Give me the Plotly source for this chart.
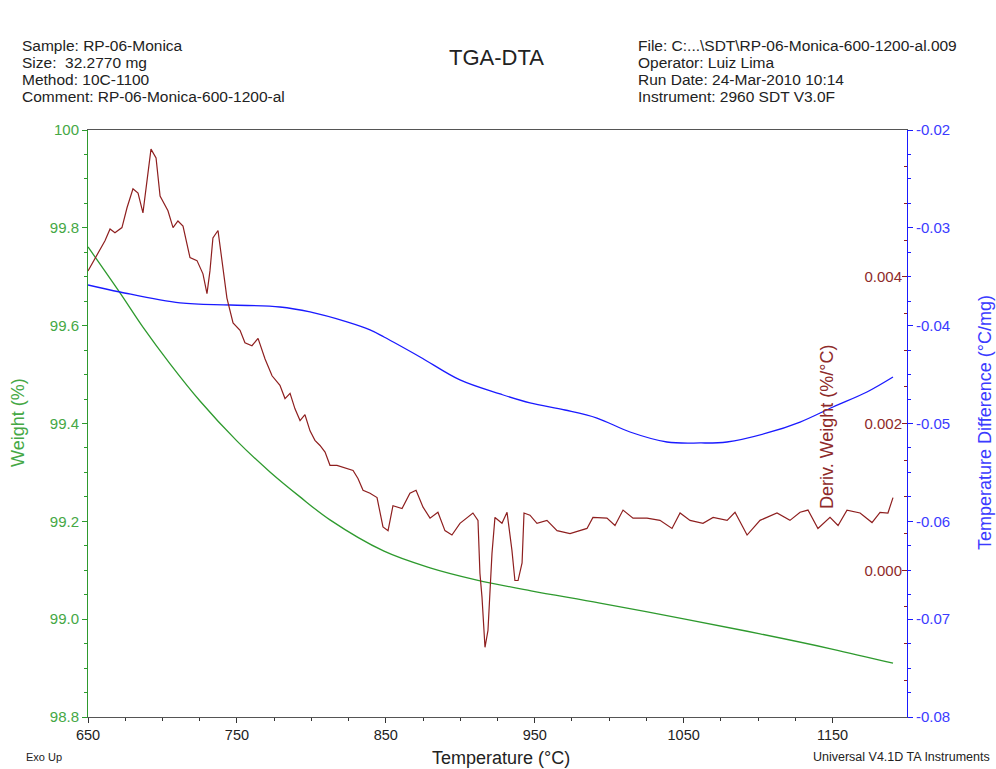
import plotly.graph_objects as go

# ---- data ----
temp_weight = [650.0, 671.5, 686.9, 705.1, 725.2, 750.1, 772.2, 792.4, 812.5, 848.8,
               879.7, 911.2, 947.5, 993.8, 1050.9, 1101.3, 1149.6, 1190.6]
weight = [99.761, 99.667, 99.597, 99.522, 99.446, 99.364, 99.301, 99.250, 99.203, 99.139,
          99.105, 99.080, 99.058, 99.033, 99.000, 98.970, 98.939, 98.910]

temp_dta = [650.0, 671.5, 711.8, 745.4, 778.9, 799.1, 823.9, 839.4, 848.8, 873.0,
            899.8, 926.7, 946.8, 970.3, 991.8, 1014.0, 1038.8, 1061.0, 1079.1, 1106.0,
            1128.2, 1150.3, 1173.1, 1190.6]
dta = [-0.03584, -0.03656, -0.03768, -0.03789, -0.03809, -0.03860, -0.03962, -0.04044,
       -0.04116, -0.04320, -0.04555, -0.04698, -0.04790, -0.04862, -0.04944, -0.05087,
       -0.05189, -0.05199, -0.05189, -0.05097, -0.04985, -0.04831, -0.04678, -0.04525]

temp_deriv = [650.0, 661.4, 664.8, 668.1, 672.8, 676.2, 680.2, 683.6, 686.9, 689.6,
              692.3, 695.7, 698.4, 703.7, 707.1, 710.4, 713.8, 718.5, 723.2, 727.2,
              729.9, 731.9, 733.9, 737.3, 740.0, 743.3, 747.4, 752.1, 755.4, 760.1,
              764.2, 768.9, 773.6, 778.9, 782.3, 785.7, 789.0, 792.4, 795.7, 799.1,
              802.4, 805.8, 809.2, 812.5, 817.2, 822.6, 828.0, 831.3, 834.7, 839.4,
              844.1, 848.1, 851.5, 854.8, 860.9, 866.2, 870.3, 875.0, 879.7, 885.0,
              889.7, 894.4, 899.8, 908.5, 911.9, 913.2, 914.6, 916.6, 918.6, 921.3,
              923.3, 928.0, 931.4, 934.7, 936.7, 938.8, 941.5, 942.8, 946.8, 951.5,
              958.2, 965.0, 973.7, 985.1, 989.1, 998.5, 1003.9, 1009.3, 1016.0, 1025.4,
              1034.1, 1042.2, 1047.6, 1054.3, 1063.0, 1069.8, 1079.2, 1084.5, 1092.6, 1101.3,
              1112.7, 1121.4, 1128.2, 1133.5, 1140.2, 1148.3, 1153.7, 1159.7, 1168.5, 1176.5,
              1181.9, 1187.2, 1190.6]
deriv = [0.00408, 0.00449, 0.00465, 0.00460, 0.00467, 0.00494, 0.00520, 0.00514, 0.00487, 0.00527,
         0.00574, 0.00562, 0.00510, 0.00490, 0.00467, 0.00476, 0.00469, 0.00426, 0.00422, 0.00404,
         0.00377, 0.00408, 0.00453, 0.00463, 0.00418, 0.00371, 0.00337, 0.00327, 0.00310, 0.00306,
         0.00316, 0.00288, 0.00265, 0.00252, 0.00234, 0.00241, 0.00220, 0.00204, 0.00212, 0.00190,
         0.00177, 0.00170, 0.00161, 0.00143, 0.00143, 0.00139, 0.00136, 0.00125, 0.00109, 0.00105,
         0.00099, 0.00059, 0.00054, 0.00088, 0.00084, 0.00105, 0.00109, 0.00086, 0.00071, 0.00079,
         0.00054, 0.00048, 0.00064, 0.00078, 0.00068, -0.00004, -0.00037, -0.00105, -0.00082, 0.00023,
         0.00072, 0.00064, 0.00079, 0.00027, -0.00014, -0.00014, 0.00010, 0.00078, 0.00075, 0.00064,
         0.00068, 0.00054, 0.00050, 0.00057, 0.00072, 0.00071, 0.00061, 0.00082, 0.00071, 0.00071,
         0.00068, 0.00057, 0.00078, 0.00068, 0.00064, 0.00072, 0.00068, 0.00079, 0.00048, 0.00068,
         0.00078, 0.00068, 0.00079, 0.00082, 0.00057, 0.00072, 0.00061, 0.00082, 0.00078, 0.00065,
         0.00079, 0.00078, 0.00099]

weight_ticks = [98.8, 99.0, 99.2, 99.4, 99.6, 99.8, 100.0]
weight_labels = ["98.8", "99.0", "99.2", "99.4", "99.6", "99.8", "100"]
dta_ticks = [-0.08, -0.07, -0.06, -0.05, -0.04, -0.03, -0.02]
dta_labels = ["-0.08", "-0.07", "-0.06", "-0.05", "-0.04", "-0.03", "-0.02"]
deriv_ticks = [0.0, 0.002, 0.004]
deriv_labels = ["0.000", "0.002", "0.004"]
temp_ticks = [650, 750, 850, 950, 1050, 1150]

GREEN = "#2e9a2e"
GREEN_TXT = "#45a845"
BLUE = "#1a1aff"
BLUE_TXT = "#3b3bff"
BROWN = "#8e1f1f"
BROWN_TXT = "#8e2a2a"
FONT = "Arial, Liberation Sans, sans-serif"

fig = go.Figure()
fig.add_trace(go.Scatter(x=temp_weight, y=weight, mode="lines", yaxis="y",
                         line=dict(color=GREEN, width=1.3, shape="spline"), hoverinfo="skip"))
fig.add_trace(go.Scatter(x=temp_dta, y=dta, mode="lines", yaxis="y2",
                         line=dict(color=BLUE, width=1.3, shape="spline"), hoverinfo="skip"))
fig.add_trace(go.Scatter(x=temp_deriv, y=deriv, mode="lines", yaxis="y3",
                         line=dict(color=BROWN, width=1.2), hoverinfo="skip"))

L, R, T, B = 88, 89, 130, 52
W, H = 996, 769
pw, ph = W - L - R, H - T - B


def px(x):
    return (x - L) / pw


def py(y):
    return (H - B - y) / ph


fig.update_layout(
    width=W, height=H,
    margin=dict(l=L, r=R, t=T, b=B),
    paper_bgcolor="white", plot_bgcolor="white",
    showlegend=False,
    font=dict(family=FONT, size=12, color="#222"),
    xaxis=dict(range=[650, 1200], tickvals=temp_ticks, ticks="outside", ticklen=5,
               tickcolor="#333", minor=dict(dtick=25, tick0=650, ticks="outside", ticklen=3, tickcolor="#333"),
               showline=True, linecolor="#555", linewidth=1, mirror=True,
               showgrid=False, zeroline=False, tickfont=dict(size=14.5, color="#222")),
    yaxis=dict(range=[98.8, 100], tickvals=weight_ticks, ticktext=weight_labels,
               ticks="outside", ticklen=5, tickcolor=GREEN,
               minor=dict(dtick=0.05, tick0=98.8, ticks="outside", ticklen=3, tickcolor=GREEN),
               showline=True, linecolor=GREEN, linewidth=1, showgrid=False, zeroline=False,
               tickfont=dict(size=15, color=GREEN_TXT)),
    yaxis2=dict(range=[-0.08, -0.02], overlaying="y", side="right", anchor="x",
                tickvals=dta_ticks, ticktext=dta_labels, ticks="outside", ticklen=5, tickcolor=BLUE,
                minor=dict(dtick=0.0025, tick0=-0.08, ticks="outside", ticklen=3, tickcolor=BLUE),
                showline=True, linecolor=BLUE, linewidth=1, showgrid=False, zeroline=False,
                tickfont=dict(size=15, color=BLUE_TXT)),
    yaxis3=dict(range=[-0.002, 0.006], overlaying="y", side="right", anchor="x",
                tickvals=deriv_ticks, ticktext=deriv_labels, ticks="inside", ticklen=5,
                tickcolor=BROWN, ticklabelposition="inside",
                minor=dict(dtick=0.0005, tick0=0, ticks="inside", ticklen=3, tickcolor=BROWN),
                showline=False, showgrid=False, zeroline=False,
                tickfont=dict(size=15, color=BROWN_TXT)),
)

ann = []


def add(text, x, y, size=12, color="#222", xanchor="left", angle=0):
    ann.append(dict(text=text, x=px(x), y=py(y), xref="paper", yref="paper",
                    xanchor=xanchor, yanchor="middle", showarrow=False, textangle=angle,
                    font=dict(family=FONT, size=size, color=color)))


left_header = ["Sample: RP-06-Monica", "Size:  32.2770 mg", "Method: 10C-1100",
               "Comment: RP-06-Monica-600-1200-al"]
right_header = ["File: C:...\\SDT\\RP-06-Monica-600-1200-al.009", "Operator: Luiz Lima",
                "Run Date: 24-Mar-2010 10:14", "Instrument: 2960 SDT V3.0F"]
for i, t in enumerate(left_header):
    add(t, 20, 45 + i * 17.3, size=15.5)
for i, t in enumerate(right_header):
    add(t, 636, 45 + i * 17.3, size=15.5)

add("TGA-DTA", 496, 58, size=22, xanchor="center")
add("Weight (%)", 18, 423, size=18, color=GREEN_TXT, xanchor="center", angle=-90)
add("Temperature Difference (°C/mg)", 985, 423, size=18, color=BLUE_TXT, xanchor="center", angle=-90)
add("Deriv. Weight (%/°C)", 827, 427, size=18, color=BROWN_TXT, xanchor="center", angle=-90)
add("Temperature (°C)", 501, 758, size=18, xanchor="center")
add("Exo Up", 24, 757, size=11)
add("Universal V4.1D TA Instruments", 992, 757, size=12.5, xanchor="right")

fig.update_layout(annotations=ann)
fig.write_html("out.html", config={"displayModeBar": False},
               post_script="document.body.style.margin='0';")
